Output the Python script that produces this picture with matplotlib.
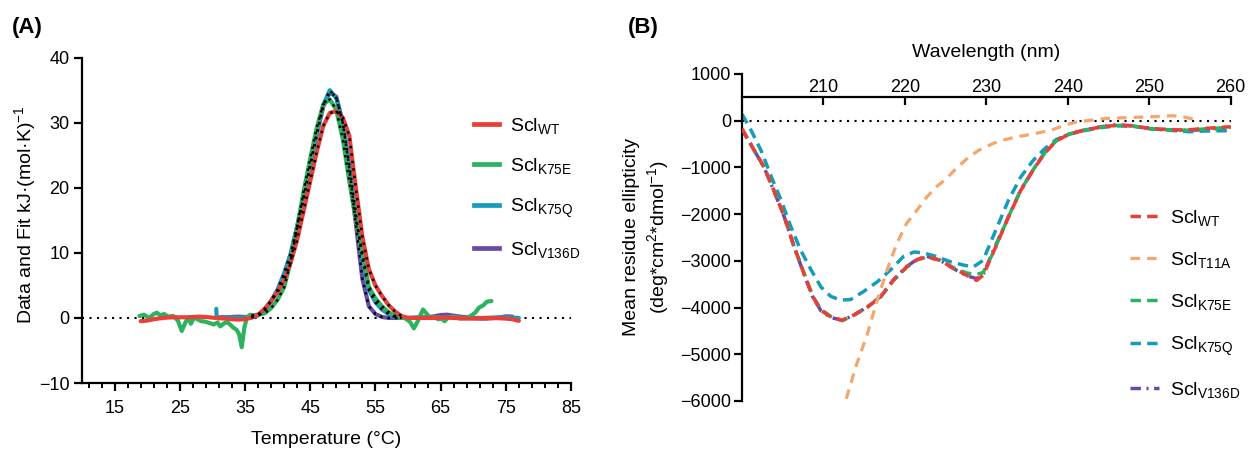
import matplotlib
matplotlib.use("Agg")
import matplotlib.pyplot as plt
from matplotlib.lines import Line2D
from matplotlib.ticker import FixedLocator

plt.rcParams['font.family'] = ['Liberation Sans', 'DejaVu Sans']
plt.rcParams['mathtext.fontset'] = 'custom'
plt.rcParams['mathtext.rm'] = 'Liberation Sans'
plt.rcParams['mathtext.it'] = 'Liberation Sans:italic'
plt.rcParams['mathtext.bf'] = 'Liberation Sans:bold'

# ---------------- Panel A: DSC thermograms ----------------
temp_peak = [36, 37, 38, 39, 40, 41, 42, 43, 44, 45, 46, 47,
             48, 49, 50, 51, 52, 53, 54, 55, 56, 57, 58, 59]

wt_fit = [0.05, 0.5, 1.4, 2.6, 4.0, 5.8, 8.5, 12.0, 16.5, 21.0, 25.5, 29.5,
          31.5, 31.8, 30.8, 28.0, 20.0, 12.5, 7.5, 5.0, 3.4, 2.0, 1.0, 0.3]
k75e_fit = [0.4, 0.5, 0.7, 1.5, 2.8, 4.7, 8.6, 14.0, 19.5, 24.5, 29.2, 32.8,
            33.6, 32.0, 27.5, 21.0, 15.0, 10.0, 4.8, 3.0, 1.8, 0.9, 0.3, 0.0]
k75q_fit = [0.1, 0.4, 1.2, 2.6, 4.3, 6.8, 9.8, 14.0, 18.6, 23.5, 28.4, 32.7,
            35.0, 33.8, 30.0, 23.5, 16.0, 9.0, 4.3, 2.4, 1.3, 0.6, 0.15, 0.0]
v136d_fit = [0.1, 0.4, 1.2, 2.6, 4.3, 6.8, 9.8, 14.0, 18.6, 23.3, 28.2, 32.5,
             34.7, 34.0, 30.0, 23.0, 14.5, 6.0, 1.8, 0.6, 0.15, 0.0, 0.0, 0.0]

# pre- and post-transition baselines of the raw scans
wt_temp_lo = [19, 20, 21, 22, 23, 24, 25, 26, 27, 28, 29, 30, 31, 32, 33, 34, 35]
wt_lo = [-0.5, -0.4, -0.2, -0.05, 0.05, 0.1, 0.1, 0.1, 0.15, 0.2, 0.15, 0.05,
         -0.05, -0.1, -0.2, -0.25, -0.2]
wt_temp_hi = [60, 61, 62, 63, 64, 65, 66, 67, 68, 69, 70, 71, 72, 73, 74, 75, 76, 77]
wt_hi = [0.0, 0.0, 0.0, 0.0, 0.0, 0.05, 0.05, 0.0, -0.05, -0.1, -0.1, -0.05,
         0.0, 0.0, -0.05, -0.1, -0.2, -0.45]

k75e_temp_lo = [18.8, 19.5, 20.3, 21.0, 21.5, 22.0, 22.6, 23.2, 24.0, 24.7, 25.3,
                25.9, 26.3, 26.7, 27.2, 27.7, 28.3, 29.0, 29.6, 30.2, 30.8, 31.2,
                31.7, 32.2, 32.7, 33.2, 33.7, 34.1, 34.5, 34.9, 35.3, 35.8]
k75e_lo = [0.3, 0.5, 0.0, 0.6, 0.8, 0.4, 0.6, 0.2, 0.3, -0.4, -2.0,
           -0.6, 0.0, -0.9, 0.1, -0.2, -0.5, -0.6, -0.8, -1.0, -0.7, -1.3,
           -0.9, -0.6, -1.0, -1.5, -1.8, -2.5, -4.5, -1.5, 0.1, 0.5]
k75e_temp_hi = [59.5, 60.3, 60.9, 61.5, 62.3, 62.9, 63.4, 64.0, 64.6, 65.2, 65.6,
                66.2, 67.0, 68.0, 69.0, 69.6, 70.3, 70.9, 71.5, 72.1, 72.8]
k75e_hi = [0.0, -0.6, -1.6, -0.5, 1.3, 0.6, 0.0, 0.2, -0.2, -0.1, -0.5,
           0.1, 0.2, -0.1, 0.0, 0.3, 0.8, 1.6, 1.9, 2.5, 2.6]

k75q_temp_lo = [30.6, 30.65, 30.8, 31.5, 32.5, 33.5, 34.5, 35.3]
k75q_lo = [1.4, 0.1, 0.0, 0.0, 0.05, 0.05, 0.05, 0.1]
k75q_temp_hi = [60, 61, 62, 63, 64, 65, 66, 67, 68, 69, 70, 71, 72, 73, 74, 75, 76, 77]
k75q_hi = [0.0, 0.05, 0.1, 0.1, 0.05, 0.05, 0.1, 0.1, 0.05, 0.0, 0.0, 0.0,
           0.0, 0.05, 0.1, 0.1, 0.05, 0.0]

v136d_temp_lo = [31, 32, 33, 34, 35]
v136d_lo = [0.1, 0.1, 0.15, 0.2, 0.15]
v136d_temp_hi = [60, 61, 62, 63, 64, 65, 66, 67, 68, 69, 70, 71, 72, 73, 74, 75, 76]
v136d_hi = [0.0, 0.0, 0.05, 0.1, 0.25, 0.45, 0.5, 0.35, 0.2, 0.1, 0.0, -0.1,
            -0.1, -0.05, 0.05, 0.25, 0.2]

a_xticks = [15, 25, 35, 45, 55, 65, 75, 85]
a_yticks = [-10, 0, 10, 20, 30, 40]

# ---------------- Panel B: far-UV CD spectra ----------------
wt_nm = [200, 201.5, 202.7, 203.9, 205.2, 206.4, 207.6, 208.7, 209.7, 210.9,
         212.3, 213.7, 215.4, 217.0, 218.6, 220.2, 221.5, 222.7, 224.3, 226.0,
         227.6, 228.8, 229.6, 230.8, 232.7, 234.2, 235.7, 237.1, 238.6, 240.2,
         242.1, 244.0, 246.0, 248.0, 250.0, 252.1, 254.5, 256.9, 260]
wt_mre = [-170, -630, -990, -1490, -2060, -2700, -3270, -3770, -4060, -4200,
          -4270, -4160, -3990, -3770, -3410, -3130, -2970, -2910, -2990, -3160,
          -3310, -3420, -3310, -2840, -2070, -1500, -1070, -710, -430, -285,
          -200, -135, -95, -107, -164, -186, -200, -164, -129]

k75e_mre = [-190, -640, -990, -1480, -2050, -2690, -3260, -3760, -4040, -4190,
            -4280, -4170, -3990, -3780, -3420, -3140, -2980, -2920, -2980, -3150,
            -3260, -3290, -3250, -2840, -2060, -1490, -1060, -700, -420, -280,
            -195, -140, -100, -110, -165, -190, -205, -175, -140]

v136d_mre = [-180, -635, -995, -1495, -2065, -2705, -3275, -3780, -4070, -4210,
             -4275, -4165, -3985, -3765, -3405, -3125, -2965, -2905, -2985, -3170,
             -3320, -3380, -3300, -2800, -2060, -1495, -1065, -705, -425, -280,
             -198, -130, -90, -110, -170, -200, -205, -195, -150]

k75q_nm = [200, 201.1, 202.4, 203.6, 204.8, 206.0, 207.2, 208.5, 209.7, 210.9,
           212.1, 213.3, 214.9, 216.6, 218.2, 219.8, 221.1, 222.3, 223.9, 225.6,
           227.2, 228.4, 229.6, 230.8, 232.7, 234.2, 235.7, 237.1, 238.6, 240.2,
           242.1, 244.0, 246.0, 248.0, 250.0, 252.1, 254.9, 256.9, 259.7, 260]
k75q_mre = [140, -200, -660, -1200, -1700, -2270, -2770, -3200, -3560, -3760,
            -3840, -3830, -3660, -3450, -3200, -2910, -2810, -2830, -2910, -3020,
            -3090, -3130, -2990, -2490, -1710, -1210, -860, -610, -400, -290,
            -210, -150, -110, -120, -170, -200, -236, -221, -214, -200]

t11a_nm = [212.8, 214.1, 215.4, 216.6, 217.8, 219.0, 220.2, 221.5, 222.7, 223.9,
           225.1, 226.3, 227.9, 229.1, 230.8, 231.7, 233.7, 235.7, 238.0, 239.8,
           241.0, 242.3, 244.8, 248.0, 250.5, 252.9, 254.5, 255.5]
t11a_mre = [-5950, -5200, -4560, -3840, -3200, -2630, -2200, -1910, -1630, -1410,
            -1240, -1020, -770, -630, -490, -430, -345, -286, -200, -86,
            -30, 0, 50, 71, 86, 107, 71, 29]

b_xticks = [210, 220, 230, 240, 250, 260]
b_yticks = [1000, 0, -1000, -2000, -3000, -4000, -5000, -6000]

C_WT = '#EA3F38'
C_K75E = '#2DB35F'
C_K75Q = '#169CBA'
C_V136D = '#6A4AA9'
C_T11A = '#F5A66C'

W, H = 1248, 450
fig = plt.figure(figsize=(W / 100, H / 100), dpi=100)

# ---------- Panel A ----------
axA = fig.add_axes([82 / W, 1 - 383 / H, (571 - 82) / W, (383 - 57.7) / H])
axA.set_xlim(10, 85)
axA.set_ylim(-10, 40)
for s in ('top', 'right'):
    axA.spines[s].set_visible(False)
for s in ('left', 'bottom'):
    axA.spines[s].set_linewidth(1.6)

axA.axhline(0, color='black', lw=1.5, dashes=(1, 2.6), zorder=1)

series_A = [
    ('Scl$_{\\mathrm{V136D}}$', C_V136D, v136d_temp_lo, v136d_lo, v136d_fit, v136d_temp_hi, v136d_hi),
    ('Scl$_{\\mathrm{K75Q}}$', C_K75Q, k75q_temp_lo, k75q_lo, k75q_fit, k75q_temp_hi, k75q_hi),
    ('Scl$_{\\mathrm{K75E}}$', C_K75E, k75e_temp_lo, k75e_lo, k75e_fit, k75e_temp_hi, k75e_hi),
    ('Scl$_{\\mathrm{WT}}$', C_WT, wt_temp_lo, wt_lo, wt_fit, wt_temp_hi, wt_hi),
]
handles_A = {}
for label, col, tlo, ylo, yfit, thi, yhi in series_A:
    t = tlo + temp_peak + thi
    y = ylo + yfit + yhi
    ln, = axA.plot(t, y, color=col, lw=3.0, solid_joinstyle='round',
                   solid_capstyle='round', zorder=2)
    handles_A[label] = ln
for label, col, tlo, ylo, yfit, thi, yhi in series_A:
    axA.plot(temp_peak, yfit, color='black', lw=1.8, dashes=(1, 2.0), zorder=3)

axA.set_xticks(a_xticks)
axA.xaxis.set_minor_locator(FixedLocator(list(range(11, 85, 2))))
axA.set_yticks(a_yticks)
axA.tick_params(axis='both', which='major', labelsize=13, width=1.6, length=6,
                direction='out')
axA.tick_params(axis='x', which='major', pad=6)
axA.tick_params(axis='y', which='major', pad=3)
axA.tick_params(axis='x', which='minor', width=1.4, length=3.5, direction='out')
axA.set_xlabel('Temperature (\u00b0C)', fontsize=14, labelpad=10)
fig.text(25 / W, 1 - 215 / H, 'Data and Fit kJ\u00b7(mol\u00b7K)$^{-1}$',
         rotation=90, ha='center', va='center', fontsize=14)

order_A = ['Scl$_{\\mathrm{WT}}$', 'Scl$_{\\mathrm{K75E}}$',
           'Scl$_{\\mathrm{K75Q}}$', 'Scl$_{\\mathrm{V136D}}$']
legA = axA.legend([Line2D([], [], color=handles_A[k].get_color(), lw=3.4) for k in order_A],
                  order_A, loc='upper left', bbox_to_anchor=(456 / W, 1 - 98 / H),
                  bbox_transform=fig.transFigure, frameon=False, fontsize=14,
                  handlelength=1.3, handletextpad=0.6, labelspacing=1.05)

# ---------- Panel B ----------
axB = fig.add_axes([742 / W, 1 - 401 / H, (1230.7 - 742) / W, (401 - 74) / H])
axB.set_xlim(200, 260)
axB.set_ylim(-6000, 1000)
axB.spines['right'].set_visible(False)
axB.spines['bottom'].set_visible(False)
axB.spines['top'].set_position(('data', 500))
axB.spines['top'].set_linewidth(1.6)
axB.spines['left'].set_linewidth(1.6)
axB.xaxis.set_ticks_position('top')
axB.xaxis.set_label_position('top')
axB.set_xticks(b_xticks)
axB.set_yticks(b_yticks)
axB.tick_params(axis='x', direction='in', length=6, width=1.6, labelsize=13, pad=1)
axB.tick_params(axis='y', direction='out', length=6, width=1.6, labelsize=13, pad=2)
axB.set_xlabel('Wavelength (nm)', fontsize=14, labelpad=16)
fig.text(647 / W, 1 - 237 / H,
         'Mean residue ellipticity\n(deg*cm$^{2}$*dmol$^{-1}$)',
         rotation=90, ha='center', va='center', fontsize=14, linespacing=1.25,
         multialignment='center')

axB.axhline(0, color='black', lw=1.5, dashes=(1, 2.6), zorder=1)

lnB_v = axB.plot(wt_nm, v136d_mre, color=C_V136D, lw=2.5, dashes=(3, 1.6, 0.6, 1.6), zorder=2)[0]
lnB_q = axB.plot(k75q_nm, k75q_mre, color=C_K75Q, lw=2.5, dashes=(3, 1.8), zorder=2)[0]
lnB_e = axB.plot(wt_nm, k75e_mre, color=C_K75E, lw=2.5, dashes=(3, 1.8), zorder=2)[0]
lnB_w = axB.plot(wt_nm, wt_mre, color=C_WT, lw=2.5, dashes=(3, 1.8), zorder=3)[0]
lnB_t = axB.plot(t11a_nm, t11a_mre, color=C_T11A, lw=2.3, dashes=(3, 2.2), zorder=3)[0]

labels_B = ['Scl$_{\\mathrm{WT}}$', 'Scl$_{\\mathrm{T11A}}$', 'Scl$_{\\mathrm{K75E}}$',
            'Scl$_{\\mathrm{K75Q}}$', 'Scl$_{\\mathrm{V136D}}$']
legB = axB.legend([lnB_w, lnB_t, lnB_e, lnB_q, lnB_v], labels_B, loc='upper left',
                  bbox_to_anchor=(1112 / W, 1 - 190 / H), bbox_transform=fig.transFigure,
                  frameon=False, fontsize=14, handlelength=1.5, handletextpad=0.6,
                  labelspacing=1.15)

fig.text(12 / W, 1 - 27 / H, '(A)', fontsize=16, fontweight='bold', va='center')
fig.text(628 / W, 1 - 27 / H, '(B)', fontsize=16, fontweight='bold', va='center')

fig.savefig('out.png', dpi=100)
